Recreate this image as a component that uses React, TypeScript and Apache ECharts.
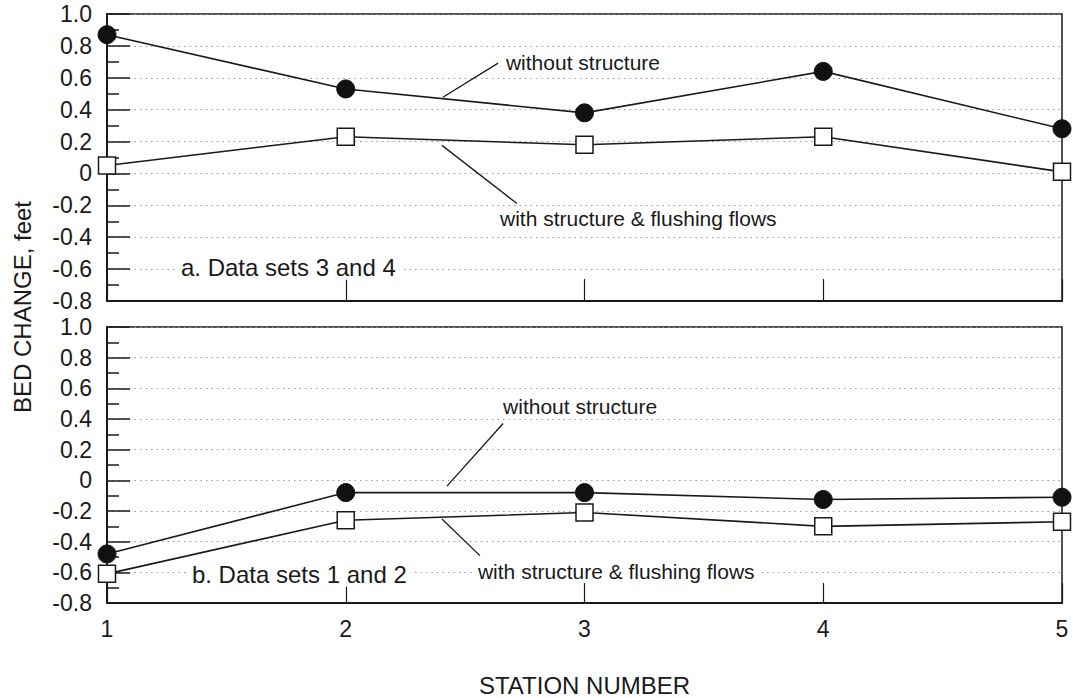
import React, { useEffect, useRef } from "react";
import * as echarts from "echarts";

const stations = [1, 2, 3, 4, 5];
const topWithout = [0.87, 0.53, 0.38, 0.64, 0.28];
const topWith = [0.05, 0.23, 0.18, 0.23, 0.01];
const bottomWithout = [-0.48, -0.08, -0.08, -0.125, -0.11];
const bottomWith = [-0.61, -0.26, -0.21, -0.3, -0.27];

const yTickValues = [-0.8, -0.6, -0.4, -0.2, 0, 0.2, 0.4, 0.6, 0.8, 1.0];
const yTickLabels = ["-0.8", "-0.6", "-0.4", "-0.2", "0", "0.2", "0.4", "0.6", "0.8", "1.0"];

const yAxisTitle = "BED CHANGE, feet";
const xAxisTitle = "STATION NUMBER";

// annotation texts with leader lines, in data coordinates of each panel
const annotations = [
  { grid: 0, text: "without structure", at: [2.671, 0.698], from: [2.638, 0.692], to: [2.407, 0.478], size: 21, bg: false },
  { grid: 0, text: "with structure & flushing flows", at: [2.646, -0.283], from: [2.717, -0.189], to: [2.403, 0.176], size: 21, bg: false },
  { grid: 0, text: "a. Data sets 3 and 4", at: [1.293, -0.591], from: null, to: null, size: 24, bg: true },
  { grid: 1, text: "without structure", at: [2.659, 0.484], from: [2.659, 0.371], to: [2.424, -0.038], size: 21, bg: false },
  { grid: 1, text: "with structure & flushing flows", at: [2.537, -0.597], from: [2.562, -0.491], to: [2.403, -0.252], size: 21, bg: true },
  { grid: 1, text: "b. Data sets 1 and 2", at: [1.339, -0.616], from: null, to: null, size: 24, bg: true },
];

const FONT = '"Liberation Sans", Arial, Helvetica, sans-serif';
const INK = "#1a1a1a";

function pairs(ys: number[]) {
  return stations.map((s, i) => [s, ys[i]]);
}

export default function App() {
  const ref = useRef<HTMLDivElement>(null);
  useEffect(() => {
    if (!ref.current) return;
    const chart = echarts.init(ref.current, undefined, { renderer: "svg" });

    const yAxisBase = (gridIndex: number) => ({
      type: "value",
      gridIndex,
      min: -0.8,
      max: 1.0,
      interval: 0.2,
      axisLine: { show: true, onZero: false, lineStyle: { color: INK, width: 2 } },
      axisTick: { show: true, inside: true, length: 23, lineStyle: { color: INK, width: 1.5 } },
      minorTick: { show: true, splitNumber: 2, length: 12, lineStyle: { color: INK, width: 1.5 } },
      axisLabel: {
        show: true,
        margin: 15,
        fontSize: 23,
        fontFamily: FONT,
        color: INK,
        formatter: (v: number) => {
          const idx = yTickValues.findIndex((t) => Math.abs(t - v) < 1e-6);
          return idx >= 0 ? yTickLabels[idx] : "";
        },
      },
      splitLine: { show: true, lineStyle: { color: "#9a9a9a", type: [1.5, 4], width: 1 } },
    });

    const xAxisBase = (gridIndex: number, showLabel: boolean) => ({
      type: "value",
      gridIndex,
      min: 1,
      max: 5,
      interval: 1,
      axisLine: { show: true, onZero: false, lineStyle: { color: INK, width: 2 } },
      axisTick: { show: true, inside: true, length: showLabel ? 20 : 22, lineStyle: { color: INK, width: 1.2 } },
      axisLabel: { show: showLabel, margin: 14, fontSize: 23, fontFamily: FONT, color: INK },
      splitLine: { show: false },
      name: showLabel ? xAxisTitle : "",
      nameLocation: "middle",
      nameGap: 70,
      nameTextStyle: { fontSize: 24, fontFamily: FONT, color: INK },
    });

    const lineSeries = (name: string, g: number, ys: number[], filled: boolean) => ({
      type: "line",
      name,
      xAxisIndex: g,
      yAxisIndex: g,
      data: pairs(ys),
      symbol: filled ? "circle" : "rect",
      symbolSize: filled ? 18 : 17,
      showSymbol: true,
      lineStyle: { color: INK, width: 1.6 },
      itemStyle: filled
        ? { color: "#111", borderColor: "#111", borderWidth: 1 }
        : { color: "#fff", borderColor: INK, borderWidth: 1.5 },
      z: filled ? 3 : 4,
    });

    chart.setOption({
      animation: false,
      backgroundColor: "#fff",
      grid: [
        { left: 107, top: 14, right: 11, height: 287, show: true, borderColor: INK, borderWidth: 1.5, backgroundColor: "transparent" },
        { left: 107, top: 327, right: 11, height: 286, show: true, borderColor: INK, borderWidth: 1.5, backgroundColor: "transparent" },
      ],
      xAxis: [xAxisBase(0, false), xAxisBase(1, true)],
      yAxis: [yAxisBase(0), yAxisBase(1)],
      series: [
        lineSeries("without structure (a)", 0, topWithout, true),
        lineSeries("with structure & flushing flows (a)", 0, topWith, false),
        lineSeries("without structure (b)", 1, bottomWithout, true),
        lineSeries("with structure & flushing flows (b)", 1, bottomWith, false),
      ],
    });

    const graphics: any[] = [
      {
        type: "text",
        x: 22,
        y: 307,
        rotation: Math.PI / 2,
        style: { text: yAxisTitle, font: `24px ${FONT}`, fill: INK, align: "center", verticalAlign: "middle" },
      },
    ];
    annotations.forEach((a) => {
      const p = chart.convertToPixel({ gridIndex: a.grid } as any, a.at) as number[];
      graphics.push({
        type: "text",
        x: p[0],
        y: p[1],
        z: 10,
        style: {
          text: a.text,
          font: `${a.size}px ${FONT}`,
          fill: INK,
          align: "left",
          verticalAlign: "middle",
          backgroundColor: a.bg ? "#fff" : "transparent",
          padding: a.bg ? [0, 4] : 0,
        },
      });
      if (a.from && a.to) {
        const f = chart.convertToPixel({ gridIndex: a.grid } as any, a.from) as number[];
        const t = chart.convertToPixel({ gridIndex: a.grid } as any, a.to) as number[];
        graphics.push({
          type: "line",
          z: 10,
          shape: { x1: f[0], y1: f[1], x2: t[0], y2: t[1] },
          style: { stroke: INK, lineWidth: 1.3 },
        });
      }
    });
    chart.setOption({ graphic: graphics });

    return () => chart.dispose();
  }, []);
  return <div ref={ref} style={{ position: "absolute", left: 0, top: 0, width: 1073, height: 698 }} />;
}
